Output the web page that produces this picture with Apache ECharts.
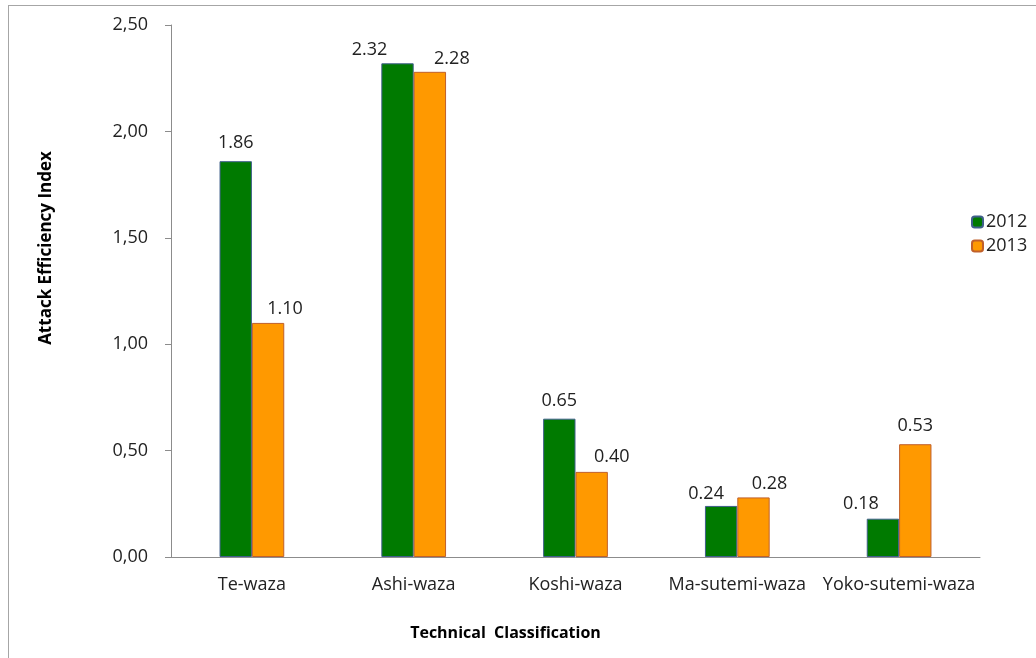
<!DOCTYPE html>
<html>
<head>
<meta charset="utf-8">
<script src="https://cdn.jsdelivr.net/npm/echarts@6/dist/echarts.min.js"></script>
<style>
  html, body { margin: 0; padding: 0; background: #fff; }
  #frame { position: absolute; left: 8px; top: 5px; width: 1040px; height: 660px; border: 1px solid #a6a6a6; box-sizing: border-box; }
  #chart { position: absolute; left: 0; top: 0; width: 1036px; height: 658px; }
</style>
</head>
<body>
<div id="frame"></div>
<div id="chart"></div>
<script>
// Attack efficiency index by technical group, two seasons
const categories = ['Te-waza', 'Ashi-waza', 'Koshi-waza', 'Ma-sutemi-waza', 'Yoko-sutemi-waza'];
const values2012 = [1.86, 2.32, 0.65, 0.24, 0.18];
const values2013 = [1.10, 2.28, 0.40, 0.28, 0.53];
const seriesNames = ['2012', '2013'];
const yTicks = [0, 0.5, 1.0, 1.5, 2.0, 2.5];

const FONT = 'Open Sans';
const chart = echarts.init(document.getElementById('chart'));

// hand-nudged value labels so neighbouring labels stay clear of each other
const labelNudge = [
  [[0, 3], [-28, -2], [0, 3], [-15, -3], [-22, 0]],
  [[17, -1], [22, -2], [20, 0], [16, -1], [0, 3]]
];

const baseLabel = {
  show: true,
  position: 'top',
  distance: 6,
  color: '#222',
  fontFamily: FONT,
  fontSize: 18,
  formatter: p => p.value.toFixed(2)
};

function barData(values, nudges) {
  return values.map((v, i) => ({
    value: v,
    label: { offset: [nudges[i][0], -nudges[i][1]] }
  }));
}

chart.setOption({
  animation: false,
  grid: { left: 171, right: 56, top: 25, bottom: 101 },
  legend: {
    orient: 'vertical',
    left: 966,
    top: 208,
    itemWidth: 11,
    itemHeight: 11,
    itemGap: 6,
    textStyle: { fontFamily: FONT, fontSize: 18, color: '#222', padding: [0, 0, 0, -2] },
    data: seriesNames
  },
  xAxis: {
    type: 'category',
    data: categories,
    name: 'Technical  Classification',
    nameLocation: 'middle',
    nameGap: 68,
    nameTextStyle: { fontFamily: FONT, fontSize: 16, fontWeight: 'bold', color: '#000', padding: [0, 140, 0, 0] },
    axisLine: { lineStyle: { color: '#8c8c8c', width: 1 } },
    axisTick: { show: false },
    axisLabel: { fontFamily: FONT, fontSize: 18, color: '#222', margin: 19, interval: 0 }
  },
  yAxis: {
    type: 'value',
    min: yTicks[0],
    max: yTicks[yTicks.length - 1],
    interval: 0.5,
    name: 'Attack Efficiency Index',
    nameLocation: 'middle',
    nameGap: 116,
    nameTextStyle: { fontFamily: FONT, fontSize: 17, fontWeight: 'bold', color: '#000', padding: [0, 0, 0, 86] },
    axisLine: { show: true, lineStyle: { color: '#8c8c8c', width: 1 } },
    axisTick: { show: true, inside: false, length: 6, lineStyle: { color: '#8c8c8c' } },
    splitLine: { show: false },
    axisLabel: {
      fontFamily: FONT, fontSize: 18, color: '#222', margin: 23,
      formatter: v => v.toFixed(2).replace('.', ',')
    }
  },
  series: [
    {
      name: seriesNames[0],
      type: 'bar',
      data: barData(values2012, labelNudge[0]),
      barGap: '0%',
      barCategoryGap: '60%',
      itemStyle: { color: '#007a00', borderColor: '#3f5f8a', borderWidth: 1 },
      label: baseLabel
    },
    {
      name: seriesNames[1],
      type: 'bar',
      data: barData(values2013, labelNudge[1]),
      barGap: '0%',
      barCategoryGap: '60%',
      itemStyle: { color: '#ff9900', borderColor: '#c0602a', borderWidth: 1 },
      label: baseLabel
    }
  ]
});
</script>
</body>
</html>
